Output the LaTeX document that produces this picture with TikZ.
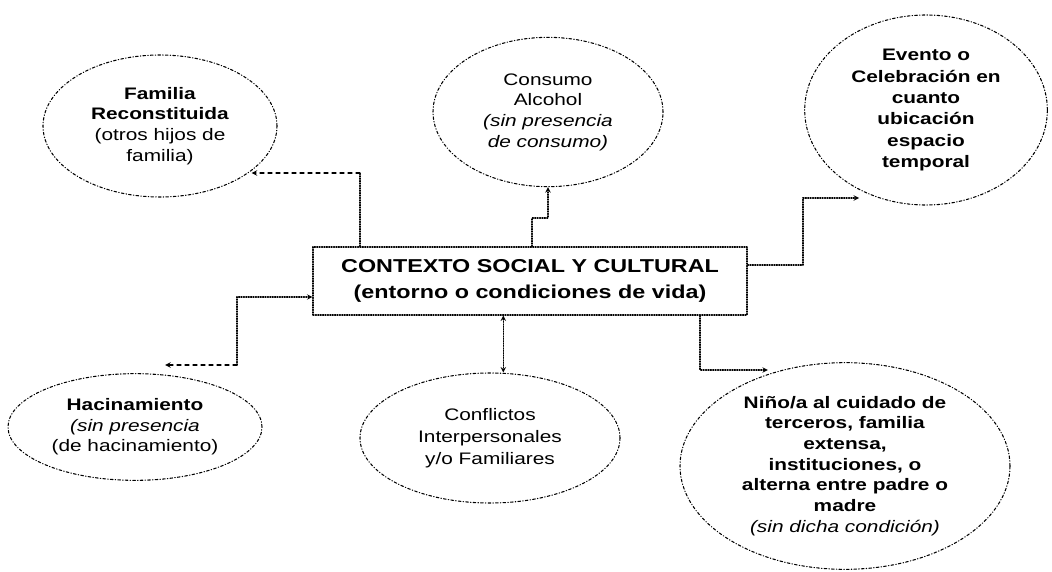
\documentclass[tikz,border=0pt]{standalone}
\usepackage{fontspec}
\setmainfont{Liberation Sans}[FakeStretch=1.25]
\usetikzlibrary{shapes.geometric}
\begin{document}
\begin{tikzpicture}[x=0.75pt, y=-0.75pt, line join=round, line cap=round, >=stealth,
  font=\fontsize{12.5}{15.5}\selectfont,
  bubble/.style={ellipse, draw, line width=0.8pt, dash pattern=on 2pt off 1.6pt on 0.4pt off 1.6pt, align=center, inner sep=0pt},
  link/.style={line width=0.8pt, densely dotted},
  dlink/.style={line width=0.8pt, dashed}]
 \useasboundingbox (0,0) rectangle (1052,571);
 \node[draw, line width=0.8pt, densely dotted, minimum width=325.5pt, minimum height=51pt, align=center,
   font=\fontsize{14}{19}\selectfont\bfseries] (ctx) at (530,281)
   {CONTEXTO SOCIAL Y CULTURAL\\(entorno o condiciones de vida)};
 \node[bubble, minimum width=175.5pt, minimum height=106.5pt] (fam) at (160,126)
   {\textbf{Familia}\\\textbf{Reconstituida}\\(otros hijos de\\familia)};
 \node[bubble, minimum width=172.5pt, minimum height=112pt] (alc) at (548,112)
   {Consumo\\Alcohol\\\textit{(sin presencia}\\\textit{de consumo)}};
 \node[bubble, minimum width=182pt, minimum height=142.5pt, font=\fontsize{12.5}{16}\selectfont\bfseries] (eve) at (926,110)
   {Evento o\\Celebración en\\cuanto\\ubicación\\espacio\\temporal};
 \node[bubble, minimum width=190.5pt, minimum height=80pt] (hac) at (135,427)
   {\textbf{Hacinamiento}\\\textit{(sin presencia}\\(de hacinamiento)};
 \node[bubble, minimum width=195pt, minimum height=97.5pt, font=\fontsize{12.5}{16.5}\selectfont] (con) at (490,438)
   {Conflictos\\Interpersonales\\y/o Familiares};
 \node[bubble, minimum width=247.5pt, minimum height=155pt] (nin) at (845,466)
   {\textbf{Niño/a al cuidado de}\\\textbf{terceros, familia}\\\textbf{extensa,}\\\textbf{instituciones, o}\\\textbf{alterna entre padre o}\\\textbf{madre}\\\textit{(sin dicha condición)}};
 \coordinate (b1) at (360,173);
 \draw[link] (b1 |- ctx.north) -- (b1);
 \draw[dlink,->] (b1) -- (b1 -| fam.-26);
 \coordinate (b2) at (532,218);
 \draw[link,->] (b2 |- ctx.north) -- (b2) -| (alc.south);
 \coordinate (b3) at (803,198);
 \draw[link,->] ([yshift=12pt]ctx.east) -| (b3) -- (b3 -| eve.-130);
 \coordinate (h1) at ([yshift=-12pt]ctx.west);
 \coordinate (b4) at (237,365);
 \draw[link,->] (b4) |- (h1);
 \draw[dlink,->] (b4) -- (b4 -| hac.60);
 \coordinate (c5) at ([xshift=10pt]con.north);
 \draw[link,<->] (c5 |- ctx.south) -- (c5);
 \coordinate (b6) at (700,370);
 \draw[link,->] (b6 |- ctx.south) -- (b6) -- (b6 -| nin.130);
\end{tikzpicture}
\end{document}
